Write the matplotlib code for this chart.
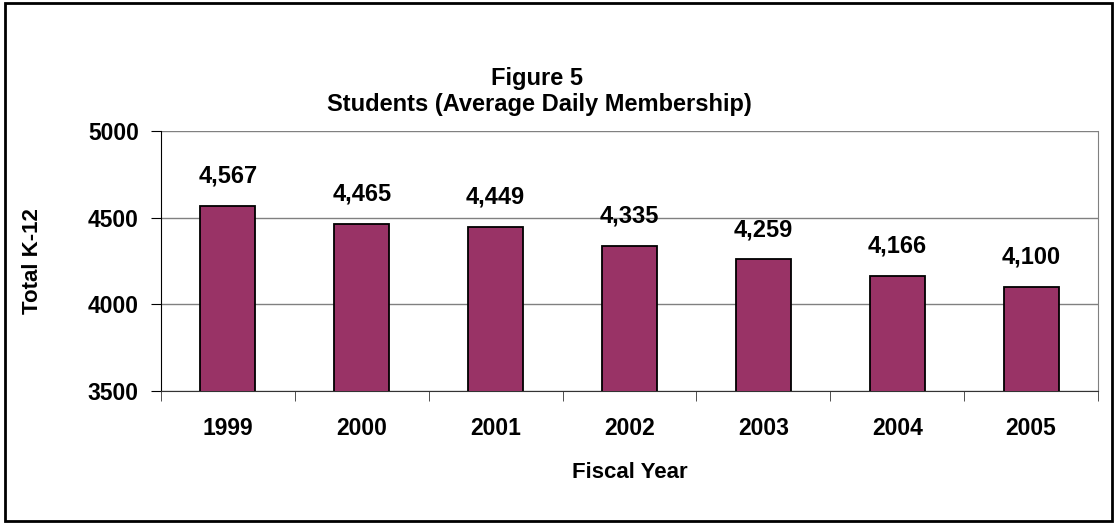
import matplotlib
matplotlib.use("Agg")
import matplotlib.pyplot as plt
from matplotlib.patches import Rectangle

years = ["1999", "2000", "2001", "2002", "2003", "2004", "2005"]
students = [4567, 4465, 4449, 4335, 4259, 4166, 4100]
yticks = [3500, 4000, 4500, 5000]

plt.rcParams['font.family'] = ['Liberation Sans', 'DejaVu Sans']
plt.rcParams['font.weight'] = 'bold'

FS = 16.5

fig = plt.figure(figsize=(11.18, 5.25), dpi=100)
ax = fig.add_axes([161/1118, 1 - 391/525, (1098 - 161)/1118, (391 - 131)/525])

x = list(range(len(years)))
ax.bar(x, students, width=0.41, color='#993366', edgecolor='black', linewidth=1.3, zorder=3)
ax.set_ylim(3500, 5000)
ax.set_xlim(-0.5, len(years) - 0.5)
ax.set_yticks(yticks)
ax.set_yticklabels([str(t) for t in yticks], fontsize=FS, fontweight='bold')
ax.set_xticks(x)
ax.set_xticklabels(years, fontsize=FS, fontweight='bold')
ax.tick_params(axis='x', length=0, pad=19)
ax.set_xticks([i + 0.5 for i in range(-1, len(years))], minor=True)
ax.tick_params(axis='x', which='minor', length=7, color='#333333', direction='out')
ax.tick_params(axis='y', length=7, color='black', direction='out', pad=9)
ax.grid(axis='y', color='#808080', linewidth=1, zorder=0)

ax.spines['top'].set_visible(False)
ax.spines['right'].set_color('#808080')
ax.spines['left'].set_color('black')
ax.spines['bottom'].set_color('#333333')

for xi, v in zip(x, students):
    ax.annotate(f"{v:,}", xy=(xi, v), xytext=(0, 21.5), textcoords='offset points',
                ha='center', va='center', fontsize=FS + 0.5, fontweight='bold')

ax.set_xlabel("Fiscal Year", fontsize=FS - 0.5, fontweight='bold')
ax.xaxis.set_label_coords(0.5, (391 - 472) / 260)
ax.xaxis.label.set_va('center')
ax.set_ylabel("Total K-12", fontsize=FS - 0.5, fontweight='bold')
ax.yaxis.set_label_coords((33 - 161) / 937, (391 - 261) / 260)
ax.yaxis.label.set_va('center')

fig.text(537/1118, 1 - 79/525, "Figure 5", ha='center', va='center', fontsize=FS + 0.5, fontweight='bold')
fig.text(539/1118, 1 - 105/525, "Students (Average Daily Membership)", ha='center', va='center',
         fontsize=FS + 0.5, fontweight='bold')

fig.patches.append(Rectangle((5/1118, 4/525), 1107/1118, 518/525, transform=fig.transFigure,
                             fill=False, edgecolor='black', linewidth=2))

fig.savefig("out.png", dpi=100)
